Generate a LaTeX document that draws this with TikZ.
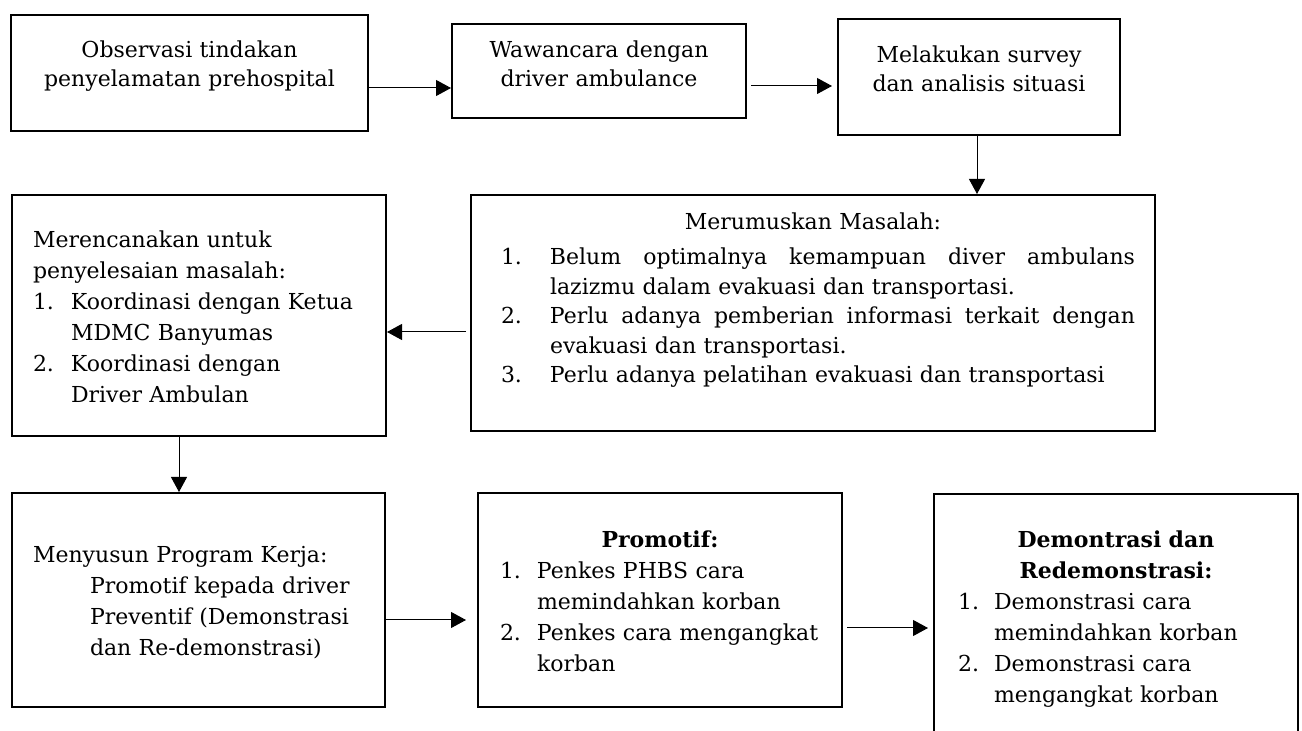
\documentclass[tikz,border=0pt]{standalone}
\usepackage{fontspec}
\setmainfont{DejaVu Serif}
\usetikzlibrary{arrows.meta}
\newcommand{\rata}[1]{\makebox[292.5pt][s]{\spaceskip=.3333em plus 1fil\relax#1}}
\tikzset{
  kotak/.style={draw, line width=1pt, anchor=north west, inner ysep=0pt, align=left,
    font=\fontsize{11}{15.5}\selectfont},
  panah/.style={-{Triangle[length=7.5pt,width=8pt]}, line width=0.5pt},
}
\begin{document}
\begin{tikzpicture}[x=0.5pt, y=-0.5pt]
\useasboundingbox (0,0) rectangle (1302,731);
\clip (0,0) rectangle (1302,731);
% baris atas
\node[kotak, align=center, inner xsep=0pt, text width=178.5pt, text height=21.5pt, text depth=36.5pt,
  font=\fontsize{11}{14.5}\selectfont] (obs) at (10,14) {Observasi tindakan\\penyelamatan prehospital};
\node[kotak, align=center, inner xsep=0pt, text width=147pt, text height=17pt, text depth=30pt,
  font=\fontsize{11}{14.5}\selectfont] (waw) at (451,23) {Wawancara dengan\\driver ambulance};
\node[kotak, align=center, inner xsep=0pt, text width=141pt, text height=22pt, text depth=36pt,
  font=\fontsize{11}{14.5}\selectfont] (mel) at (837,18) {Melakukan survey\\dan analisis situasi};
% baris tengah
\node[kotak, inner xsep=5pt, text width=332pt, text height=17.5pt, text depth=100.5pt,
  font=\fontsize{11}{14.75}\selectfont] (rum) at (470,194) {%
  \makebox[\hsize][c]{Merumuskan Masalah:}\\[2.75pt]
  \hspace*{10pt}\makebox[24.5pt][l]{1.}\rata{Belum optimalnya kemampuan diver ambulans}\\
  \hspace*{34.5pt}lazizmu dalam evakuasi dan transportasi.\\
  \hspace*{10pt}\makebox[24.5pt][l]{2.}\rata{Perlu adanya pemberian informasi terkait dengan}\\
  \hspace*{34.5pt}evakuasi dan transportasi.\\
  \hspace*{10pt}\makebox[24.5pt][l]{3.}Perlu adanya pelatihan evakuasi dan transportasi};
\node[kotak, inner xsep=10.5pt, text width=166pt, text height=26.5pt, text depth=94pt] (ren) at (11,194) {%
  Merencanakan untuk\\
  penyelesaian masalah:\\
  \makebox[19pt][l]{1.}Koordinasi dengan Ketua\\
  \hspace*{19pt}MDMC Banyumas\\
  \makebox[19pt][l]{2.}Koordinasi dengan\\
  \hspace*{19pt}Driver Ambulan};
% baris bawah
\node[kotak, inner xsep=10.5pt, text width=165.5pt, text height=35pt, text depth=72pt] (sus) at (11,492) {%
  Menyusun Program Kerja:\\
  \hspace*{28.5pt}Promotif kepada driver\\
  \hspace*{28.5pt}Preventif (Demonstrasi\\
  \hspace*{28.5pt}dan Re-demonstrasi)};
\node[kotak, inner xsep=11pt, text width=160pt, text height=27.5pt, text depth=79.5pt] (pro) at (477,492) {%
  \makebox[\hsize][c]{\bfseries Promotif:}\\
  \makebox[18.5pt][l]{1.}Penkes PHBS cara\\
  \hspace*{18.5pt}memindahkan korban\\
  \makebox[18.5pt][l]{2.}Penkes cara mengangkat\\
  \hspace*{18.5pt}korban};
\node[kotak, inner xsep=12pt, text width=158pt, text height=27pt, text depth=103pt] (dem) at (933,493) {%
  \makebox[\hsize][c]{\bfseries Demontrasi dan}\\
  \makebox[\hsize][c]{\bfseries Redemonstrasi:}\\
  \makebox[18pt][l]{1.}Demonstrasi cara\\
  \hspace*{18pt}memindahkan korban\\
  \makebox[18pt][l]{2.}Demonstrasi cara\\
  \hspace*{18pt}mengangkat korban};
% panah
\draw[panah] (obs.east |- 0,88) -- (waw.west |- 0,88);
\draw[panah, shorten <=2pt, shorten >=2.5pt] (waw.east |- 0,86) -- (mel.west |- 0,86);
\draw[panah] (mel.south -| 977,0) -- (rum.north -| 977,0);
\draw[panah, shorten <=2pt] (rum.west |- 0,332) -- (ren.east |- 0,332);
\draw[panah] (ren.south -| 179,0) -- (sus.north -| 179,0);
\draw[panah, shorten >=5.5pt] (sus.east |- 0,620) -- (pro.west |- 0,620);
\draw[panah, shorten <=2pt, shorten >=2.5pt] (pro.east |- 0,628) -- (dem.west |- 0,628);
\end{tikzpicture}
\end{document}
